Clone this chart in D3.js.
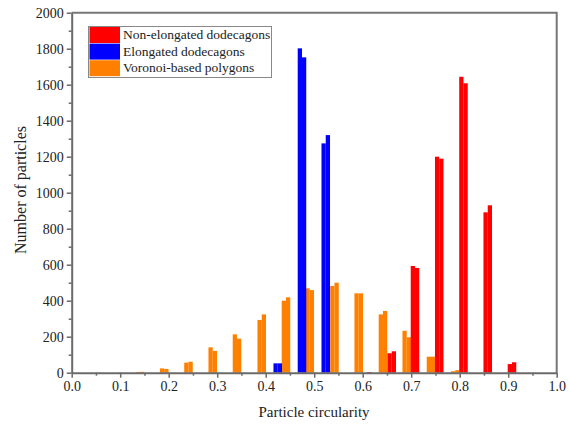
<!DOCTYPE html>
<html><head><meta charset="utf-8">
<script src="https://cdn.jsdelivr.net/npm/d3@7"></script>
<style>body{margin:0;background:#fff} text{font-family:'Liberation Serif','Times New Roman',serif;}</style>
</head><body><svg id="c" width="570" height="428"></svg>
<script>
// ---- data ----
const seriesNames = ["Non-elongated dodecagons", "Elongated dodecagons", "Voronoi-based polygons"];
const seriesColors = ["#ff0000", "#0000ff", "#ff8000"];
const binWidth = 0.0088;
// each series: start circularity of a pair of adjacent bins, value of first bin, value of second bin
const orangeStarts = [0.132, 0.182, 0.232, 0.282, 0.332, 0.383, 0.433, 0.482, 0.533, 0.583, 0.633, 0.682, 0.732, 0.782];
const orangeA      = [4, 24, 56, 141, 213, 293, 400, 469, 482, 441, 324, 233, 89, 8];
const orangeB      = [5, 21, 61, 121, 189, 324, 419, 459, 500, 441, 343, 197, 89, 14];
const blueStarts = [0.416, 0.466, 0.515];
const blueA      = [52, 1802, 1274];
const blueB      = [52, 1752, 1320];
const redStarts = [0.600, 0.651, 0.699, 0.749, 0.799, 0.849, 0.899];
const redA      = [0, 108, 593, 1200, 1644, 891, 48];
const redB      = [4, 119, 582, 1189, 1608, 930, 58];
const xTicks = [0, 0.1, 0.2, 0.3, 0.4, 0.5, 0.6, 0.7, 0.8, 0.9, 1.0];
const yTicks = [0, 200, 400, 600, 800, 1000, 1200, 1400, 1600, 1800, 2000];

// ---- chart ----
const svg = d3.select("#c");
const L = 71.7, R = 556.7, T = 12.7, B = 372.7;
const x = d3.scaleLinear().domain([0, 1]).range([L, R]);
const y = d3.scaleLinear().domain([0, 2000]).range([B, T]);
const axisColor = "#6a6a6a";
const font = "'Liberation Serif','Times New Roman',serif";

function bars(starts, a, b, color) {
  const rows = [];
  starts.forEach((s, i) => {
    rows.push({x0: s, v: a[i]});
    rows.push({x0: s + binWidth, v: b[i]});
  });
  svg.append("g").selectAll("rect").data(rows.filter(d => d.v > 0)).join("rect")
    .attr("x", d => x(d.x0))
    .attr("width", d => x(d.x0 + binWidth) - x(d.x0))
    .attr("y", d => y(d.v))
    .attr("height", d => y(0) - y(d.v))
    .attr("fill", color);
}
bars(orangeStarts, orangeA, orangeB, seriesColors[2]);
bars(blueStarts, blueA, blueB, seriesColors[1]);
bars(redStarts, redA, redB, seriesColors[0]);

// frame (top and right)
svg.append("path")
  .attr("d", `M${L},${T}H${R}V${B}`)
  .attr("fill", "none").attr("stroke", "#777").attr("stroke-width", 2);

function styleAxis(g) {
  g.attr("font-family", font).attr("font-size", 14);
  g.select(".domain").attr("stroke", axisColor).attr("stroke-width", 2);
  g.selectAll(".tick line").attr("stroke", axisColor).attr("stroke-width", 1.5);
  g.selectAll("text").attr("font-family", font).attr("font-size", 14).attr("fill", "#222");
}

// x axis
const xMinor = d3.range(0.05, 1, 0.1);
svg.append("g").attr("transform", `translate(0,${B})`)
  .call(d3.axisBottom(x).tickValues(xMinor).tickSize(3).tickFormat("").tickSizeOuter(0))
  .call(g => { g.select(".domain").remove(); g.selectAll(".tick line").attr("stroke", axisColor).attr("stroke-width", 1.5); });
svg.append("g").attr("transform", `translate(0,${B})`)
  .call(d3.axisBottom(x).tickValues(xTicks).tickFormat(d3.format(".1f")).tickSize(5).tickPadding(3).tickSizeOuter(0))
  .call(styleAxis);

// y axis
const yMinor = d3.range(100, 2000, 200);
svg.append("g").attr("transform", `translate(${L},0)`)
  .call(d3.axisLeft(y).tickValues(yMinor).tickSize(3).tickFormat("").tickSizeOuter(0))
  .call(g => { g.select(".domain").remove(); g.selectAll(".tick line").attr("stroke", axisColor).attr("stroke-width", 1.5); });
svg.append("g").attr("transform", `translate(${L},0)`)
  .call(d3.axisLeft(y).tickValues(yTicks).tickFormat(d3.format("d")).tickSize(5).tickPadding(3).tickSizeOuter(0))
  .call(styleAxis);

// axis titles
svg.append("text").attr("x", 314).attr("y", 417).attr("text-anchor", "middle")
  .attr("font-family", font).attr("font-size", 15).attr("fill", "#222").text("Particle circularity");
svg.append("text").attr("transform", `translate(26,190) rotate(-90)`).attr("text-anchor", "middle")
  .attr("font-family", font).attr("font-size", 16).attr("fill", "#222").text("Number of particles");

// legend
const lg = svg.append("g");
lg.append("rect").attr("x", 88.5).attr("y", 26.5).attr("width", 183).attr("height", 51)
  .attr("fill", "#fff").attr("stroke", "#888").attr("stroke-width", 1);
seriesNames.forEach((n, i) => {
  lg.append("rect").attr("x", 89.5).attr("y", 27 + i * 16.6).attr("width", 30.5).attr("height", 16)
    .attr("fill", seriesColors[i]);
  lg.append("text").attr("x", 123).attr("y", 39 + i * 16.6)
    .attr("font-family", font).attr("font-size", 13.5).attr("fill", "#222").text(n);
});
</script>
</body></html>
